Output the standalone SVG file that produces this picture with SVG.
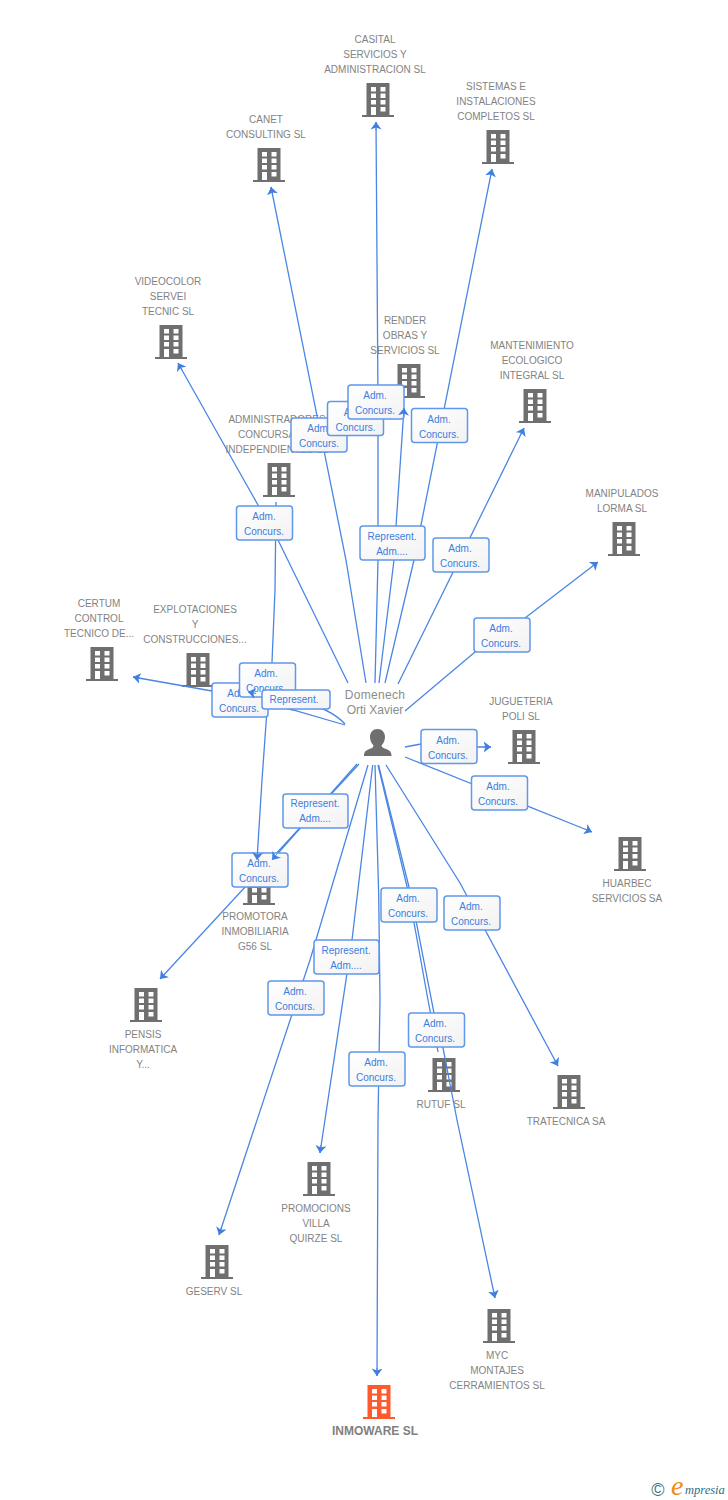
<svg xmlns="http://www.w3.org/2000/svg" width="728" height="1500" viewBox="0 0 728 1500">
<style>
text{font-family:"Liberation Sans",Arial,sans-serif;font-size:10px;text-anchor:middle}
.n{fill:#838383}
.c{fill:none;stroke:#4a86e4;stroke-width:1.3}
.h{fill:none;stroke:#4a86e4;stroke-width:1;marker-end:url(#a)}
.l rect{fill:url(#g);stroke:#5f97ea;stroke-width:1.5}
.l text{fill:#3b7de0}
</style>
<defs>
<linearGradient id="g" x1="0" y1="0" x2="1" y2="1"><stop offset="0" stop-color="#ffffff"/><stop offset="1" stop-color="#f2f2f2"/></linearGradient>
<marker id="a" markerUnits="userSpaceOnUse" markerWidth="12" markerHeight="13" refX="7.500" refY="6.500" orient="auto"><path d="M0 1L7.500 6.500L0 12L2 6.500Z" fill="#3f7fe0"/></marker>
<symbol id="bld" width="32" height="35" viewBox="0 0 32 35"><path fill-rule="evenodd" fill="currentColor" d="M4.500 0H27.500V32H32V34H0V32H4.500ZM9 4V8.500H14V4ZM18.500 4V8.500H23.500V4ZM9 10.500V15H14V10.500ZM18.500 10.500V15H23.500V10.500ZM9 17V21.500H14V17ZM18.500 17V21.500H23.500V17ZM9 24V32H14V24ZM18.500 24V28.500H23.500V24Z"/></symbol>
</defs>
<g id="nodes">
<g id="n-casital"><text class="n" x="375" y="43">CASITAL</text><text class="n" x="375" y="58">SERVICIOS Y</text><text class="n" x="375" y="73">ADMINISTRACION SL</text><use href="#bld" x="362" y="83" color="#6f6f6f"/></g>
<g id="n-sistemas"><text class="n" x="496" y="90">SISTEMAS E</text><text class="n" x="496" y="105">INSTALACIONES</text><text class="n" x="496" y="120">COMPLETOS SL</text><use href="#bld" x="482" y="130" color="#6f6f6f"/></g>
<g id="n-canet"><text class="n" x="266" y="123">CANET</text><text class="n" x="266" y="138">CONSULTING SL</text><use href="#bld" x="253" y="148" color="#6f6f6f"/></g>
<g id="n-videocolor"><text class="n" x="168" y="285">VIDEOCOLOR</text><text class="n" x="168" y="300">SERVEI</text><text class="n" x="168" y="315">TECNIC SL</text><use href="#bld" x="155" y="325" color="#6f6f6f"/></g>
<g id="n-render"><text class="n" x="405" y="324">RENDER</text><text class="n" x="405" y="339">OBRAS Y</text><text class="n" x="405" y="354">SERVICIOS  SL</text><use href="#bld" x="393" y="364" color="#6f6f6f"/></g>
<g id="n-mantenimiento"><text class="n" x="532" y="349">MANTENIMIENTO</text><text class="n" x="532" y="364">ECOLOGICO</text><text class="n" x="532" y="379">INTEGRAL SL</text><use href="#bld" x="519" y="389" color="#6f6f6f"/></g>
<g id="n-administradores"><text class="n" x="277" y="423">ADMINISTRADORES</text><text class="n" x="276" y="438">CONCURSALES</text><text class="n" x="277" y="453">INDEPENDIENTES SL</text><use href="#bld" x="263" y="463" color="#6f6f6f"/></g>
<g id="n-manipulados"><text class="n" x="622" y="497">MANIPULADOS</text><text class="n" x="622" y="512">LORMA SL</text><use href="#bld" x="608" y="522" color="#6f6f6f"/></g>
<g id="n-certum"><text class="n" x="99" y="607">CERTUM</text><text class="n" x="99" y="622">CONTROL</text><text class="n" x="99" y="637">TECNICO DE...</text><use href="#bld" x="86" y="647" color="#6f6f6f"/></g>
<g id="n-explotaciones"><text class="n" x="195" y="613">EXPLOTACIONES</text><text class="n" x="195" y="628">Y</text><text class="n" x="195" y="643">CONSTRUCCIONES...</text><use href="#bld" x="182" y="653" color="#6f6f6f"/></g>
<g id="n-domenech"><text x="375" y="699" style="font-size:12px;fill:#8c8c8c;letter-spacing:.3px">Domenech</text><text x="375" y="714" style="font-size:12px;fill:#8c8c8c">Orti Xavier</text><path fill="#6f6f6f" d="M377.500 729C382 729 385 732.500 385 737C385 741 383 744 381.500 745.500C381.500 747 383 748 386 749C390 750.500 391.500 752 391.500 756H364C364 752 365.500 750.500 369.500 749C372.500 748 373.500 747 373.500 745.500C372 744 370 741 370 737C370 732.500 373 729 377.500 729Z"/></g>
<g id="n-jugueteria"><text class="n" x="521" y="705">JUGUETERIA</text><text class="n" x="521" y="720">POLI SL</text><use href="#bld" x="508" y="730" color="#6f6f6f"/></g>
<g id="n-huarbec"><use href="#bld" x="614" y="837" color="#6f6f6f"/><text class="n" x="627" y="887">HUARBEC</text><text class="n" x="627" y="902">SERVICIOS SA</text></g>
<g id="n-promotora"><use href="#bld" x="243" y="871" color="#6f6f6f"/><text class="n" x="255" y="920">PROMOTORA</text><text class="n" x="255" y="935">INMOBILIARIA</text><text class="n" x="255" y="950">G56 SL</text></g>
<g id="n-pensis"><use href="#bld" x="130" y="988" color="#6f6f6f"/><text class="n" x="143" y="1038">PENSIS</text><text class="n" x="143" y="1053">INFORMATICA</text><text class="n" x="143" y="1068">Y...</text></g>
<g id="n-rutuf"><use href="#bld" x="428" y="1058" color="#6f6f6f"/><text class="n" x="441" y="1108">RUTUF SL</text></g>
<g id="n-tratecnica"><use href="#bld" x="553" y="1075" color="#6f6f6f"/><text class="n" x="566" y="1125">TRATECNICA SA</text></g>
<g id="n-promocions"><use href="#bld" x="303" y="1162" color="#6f6f6f"/><text class="n" x="316" y="1212">PROMOCIONS</text><text class="n" x="316" y="1227">VILLA</text><text class="n" x="316" y="1242">QUIRZE SL</text></g>
<g id="n-geserv"><use href="#bld" x="201" y="1245" color="#6f6f6f"/><text class="n" x="214" y="1295">GESERV SL</text></g>
<g id="n-myc"><use href="#bld" x="483" y="1309" color="#6f6f6f"/><text class="n" x="497" y="1359">MYC</text><text class="n" x="497" y="1374">MONTAJES</text><text class="n" x="497" y="1389">CERRAMIENTOS SL</text></g>
<g id="n-inmoware"><use href="#bld" x="363" y="1385" color="#ff5a2e"/><text x="375" y="1435" style="font-size:12px;font-weight:bold;fill:#808080">INMOWARE SL</text></g>
</g>
<g id="connectors">
<path class="c" d="M376 122L378 400L378 560L375 683"/>
<path class="c" d="M492 169L414 560L385 683"/>
<path class="c" d="M271 187L346 560L366 683"/>
<path class="c" d="M178 363L258 505L278 540L348 683"/>
<path class="c" d="M404 408L396 526L394 560L379 683"/>
<path class="c" d="M524 428L398 684"/>
<path class="c" d="M598 562L525 618L475 652L405 711"/>
<path class="c" d="M405 747L421 744L476 747L491 747"/>
<path class="c" d="M405 757L592 832"/>
<path class="c" d="M386 765L460 883L558 1066"/>
<path class="c" d="M378.500 765L411 895L434 1013L443 1048L457 1120L495 1298"/>
<path class="c" d="M378 765L409 895L428 1000L438 1052"/>
<path class="c" d="M375 765L378.700 895L380 1000L378 1120L377 1376"/>
<path class="c" d="M372.700 765L352 940L320 1153"/>
<path class="c" d="M368 765L310 960L219 1235"/>
<path class="c" d="M357 764L272 860"/>
<path class="c" d="M359 764L160 979"/>
<path class="c" d="M276 502L275 590L272 662L267 710L262 780L257 860"/>
<path class="c" d="M133 677L212 691L293 710L345 725"/>
<path class="c" d="M248 692L300 702Q330 708 345 724"/>
</g>
<g id="edge-labels">
<g class="l"><rect x="291" y="418" width="56" height="34" rx="3"/><text x="319" y="432">Adm.</text><text x="319" y="447">Concurs.</text></g>
<g class="l"><rect x="327.500" y="401.500" width="56" height="34" rx="3"/><text x="355.500" y="415.500">Adm.</text><text x="355.500" y="430.500">Concurs.</text></g>
<g class="l"><rect x="348" y="385" width="56" height="34" rx="3"/><text x="375" y="399">Adm.</text><text x="375" y="414">Concurs.</text></g>
<g class="l"><rect x="411.500" y="408.500" width="56" height="34" rx="3"/><text x="439" y="422.500">Adm.</text><text x="439" y="437.500">Concurs.</text></g>
<g class="l"><rect x="236.500" y="506" width="56" height="34" rx="3"/><text x="264" y="520">Adm.</text><text x="264" y="535">Concurs.</text></g>
<g class="l"><rect x="360" y="526" width="65" height="34" rx="3"/><text x="392" y="540">Represent.</text><text x="392" y="555">Adm....</text></g>
<g class="l"><rect x="433" y="538" width="56" height="34" rx="3"/><text x="460" y="552">Adm.</text><text x="460" y="567">Concurs.</text></g>
<g class="l"><rect x="474" y="618" width="56" height="34" rx="3"/><text x="501" y="632">Adm.</text><text x="501" y="647">Concurs.</text></g>
<g class="l"><rect x="212" y="683" width="56" height="34" rx="3"/><text x="239" y="697">Adm.</text><text x="239" y="712">Concurs.</text></g>
<g class="l"><rect x="239.500" y="663" width="56" height="34" rx="3"/><text x="266" y="677">Adm.</text><text x="266" y="692">Concurs.</text></g>
<g class="l"><rect x="262" y="690" width="68" height="19" rx="3"/><text x="294" y="703">Represent.</text></g>
<g class="l"><rect x="421" y="729.500" width="56" height="34" rx="3"/><text x="448" y="743.500">Adm.</text><text x="448" y="758.500">Concurs.</text></g>
<g class="l"><rect x="471.500" y="776" width="56" height="34" rx="3"/><text x="498" y="790">Adm.</text><text x="498" y="805">Concurs.</text></g>
<g class="l"><rect x="283" y="794" width="65" height="34" rx="3"/><text x="315" y="807">Represent.</text><text x="315" y="822">Adm....</text></g>
<g class="l"><rect x="232" y="853" width="56" height="34" rx="3"/><text x="259" y="867">Adm.</text><text x="259" y="882">Concurs.</text></g>
<g class="l"><rect x="381" y="888" width="56" height="34" rx="3"/><text x="408" y="902">Adm.</text><text x="408" y="917">Concurs.</text></g>
<g class="l"><rect x="444" y="896" width="56" height="34" rx="3"/><text x="471" y="910">Adm.</text><text x="471" y="925">Concurs.</text></g>
<g class="l"><rect x="314" y="940" width="65" height="34" rx="3"/><text x="346" y="954">Represent.</text><text x="346" y="969">Adm....</text></g>
<g class="l"><rect x="268" y="981" width="56" height="34" rx="3"/><text x="295" y="995">Adm.</text><text x="295" y="1010">Concurs.</text></g>
<g class="l"><rect x="408.500" y="1013" width="56" height="34" rx="3"/><text x="435" y="1027">Adm.</text><text x="435" y="1042">Concurs.</text></g>
<g class="l"><rect x="349" y="1052" width="56" height="34" rx="3"/><text x="376" y="1066">Adm.</text><text x="376" y="1081">Concurs.</text></g>
</g>
<g id="arrowheads">
<path class="h" d="M376 130L376 122"/>
<path class="h" d="M490.400 177L492 169"/>
<path class="h" d="M272.600 195L271 187"/>
<path class="h" d="M182 370L178 363"/>
<path class="h" d="M403.500 416L404 408"/>
<path class="h" d="M520.500 435L524 428"/>
<path class="h" d="M592 566.500L598 562"/>
<path class="h" d="M483 747L491 747"/>
<path class="h" d="M585 829L592 832"/>
<path class="h" d="M554 1059L558 1066"/>
<path class="h" d="M493.300 1290L495 1298"/>
<path class="h" d="M377.100 1368L377 1376"/>
<path class="h" d="M321 1145L320 1153"/>
<path class="h" d="M221.500 1227.500L219 1235"/>
<path class="h" d="M277 854L272 860"/>
<path class="h" d="M165.500 973L160 979"/>
<path class="h" d="M257.600 852L257 860"/>
<path class="h" d="M141 678.500L133 677"/>
<path class="h" d="M256 693.500L248 692"/>
</g>
<g id="logo">
<text x="658" y="1496" style="font-size:18px;fill:#3d7488">©</text>
<text x="671" y="1495" style="font-family:'Liberation Serif',serif;font-style:italic;font-size:28px;fill:#f08a1c;text-anchor:start">e</text>
<text x="685" y="1494" style="font-family:'Liberation Serif',serif;font-style:italic;font-size:12.500px;fill:#2e6e85;text-anchor:start">mpresia</text>
</g>
</svg>
